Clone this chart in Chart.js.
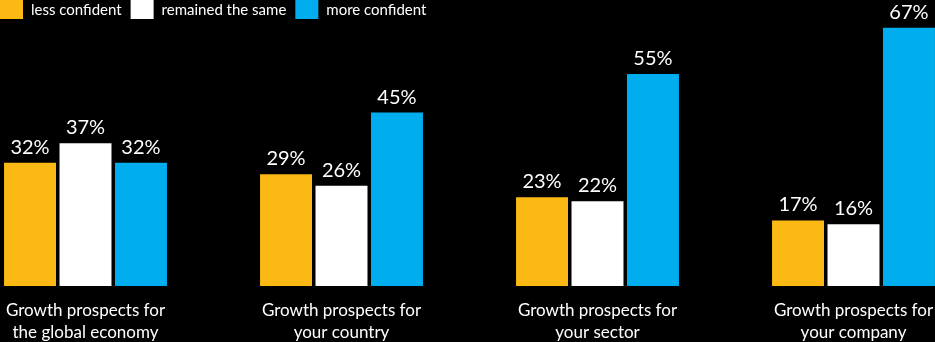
<!DOCTYPE html>
<html><head><meta charset="utf-8">
<script src="https://cdn.jsdelivr.net/npm/chart.js@4/dist/chart.umd.min.js"></script>
<style>html,body{margin:0;padding:0;background:#000;overflow:hidden}#wrap{width:935px;height:342px}</style>
</head><body><div id="wrap"><canvas id="c" width="935" height="342"></canvas></div>
<script>
const categories = [
  ["Growth prospects for", "the global economy"],
  ["Growth prospects for", "your country"],
  ["Growth prospects for", "your sector"],
  ["Growth prospects for", "your company"]
];
const seriesNames = ["less confident", "remained the same", "more confident"];
const lessConfident = [32, 29, 23, 17];
const remainedSame = [37, 26, 22, 16];
const moreConfident = [32, 45, 55, 67];
const seriesColors = ["#FDB913", "#FFFFFF", "#00AEEF"];
const FONT = "Lato, 'Open Sans', sans-serif";

const legendPlugin = {
  id: 'customLegend',
  afterDraw(chart) {
    const ctx = chart.ctx;
    ctx.save();
    ctx.font = '15px ' + FONT;
    ctx.textBaseline = 'middle';
    ctx.textAlign = 'left';
    let x = 0;
    chart.data.datasets.forEach(ds => {
      ctx.fillStyle = ds.backgroundColor;
      ctx.fillRect(x, 0, 23, 19);
      ctx.fillStyle = '#ffffff';
      ctx.fillText(ds.label, x + 31, 10);
      x += 31 + ctx.measureText(ds.label).width + 9;
    });
    ctx.restore();
  }
};

const valueLabels = {
  id: 'valueLabels',
  afterDatasetsDraw(chart) {
    const ctx = chart.ctx;
    ctx.save();
    ctx.font = '20px ' + FONT;
    ctx.fillStyle = '#ffffff';
    ctx.textAlign = 'center';
    ctx.textBaseline = 'alphabetic';
    chart.data.datasets.forEach((ds, di) => {
      const meta = chart.getDatasetMeta(di);
      meta.data.forEach((el, i) => {
        ctx.fillText(ds.data[i] + '%', el.x, el.y - 9);
      });
    });
    ctx.restore();
  }
};

new Chart(document.getElementById('c'), {
  type: 'bar',
  data: {
    labels: categories,
    datasets: [
      { label: seriesNames[0], data: lessConfident, backgroundColor: seriesColors[0] },
      { label: seriesNames[1], data: remainedSame, backgroundColor: seriesColors[1] },
      { label: seriesNames[2], data: moreConfident, backgroundColor: seriesColors[2] }
    ]
  },
  options: {
    responsive: false,
    animation: false,
    devicePixelRatio: 1,
    clip: false,
    layout: { padding: { left: 85.5, right: 81.5, top: 16.15, bottom: 0 } },
    datasets: { bar: { categoryPercentage: 0.65, barPercentage: 0.937, borderWidth: 0, clip: false } },
    plugins: { legend: { display: false }, tooltip: { enabled: false } },
    scales: {
      x: {
        offset: false,
        grid: { display: false, drawTicks: false },
        border: { display: false },
        ticks: { color: '#ffffff', font: { family: FONT, size: 17, lineHeight: 1.32 }, padding: 13, maxRotation: 0, autoSkip: false },
        afterFit(scale) { scale.height = 56; scale.paddingLeft = 0; scale.paddingRight = 0; }
      },
      y: { display: false, min: 0, max: 70 }
    }
  },
  plugins: [legendPlugin, valueLabels]
});
</script></body></html>
